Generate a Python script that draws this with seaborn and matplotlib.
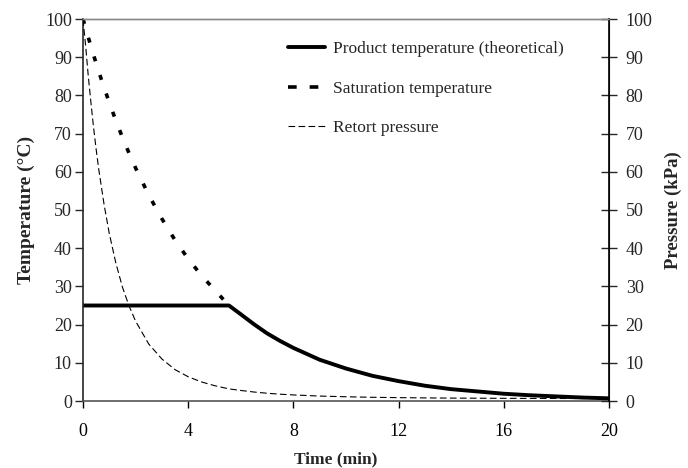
import matplotlib
matplotlib.use("Agg")
import matplotlib.pyplot as plt
from matplotlib.lines import Line2D
import seaborn as sns
import pandas as pd

# ---- data ----
sat_time = [0, 0.1, 0.2, 0.3, 0.4, 0.5, 0.6, 0.8, 1.0, 1.25, 1.5, 1.75, 2.0,
            2.5, 3.0, 3.5, 4.0, 4.5, 5.0, 5.55]
sat_temp = [100, 97.6, 95.2, 92.9, 90.6, 88.4, 86.2, 82.1, 78.1, 73.4, 69.0,
            64.9, 61.0, 53.9, 47.7, 42.1, 37.2, 32.9, 29.1, 25.0]

prod_time = [0, 5.55, 6.0, 6.5, 7.0, 7.5, 8, 9, 10, 11, 12, 13, 14, 15, 16,
             17, 18, 19, 20]
prod_temp = [25, 25, 22.7, 20.1, 17.7, 15.7, 13.9, 10.8, 8.5, 6.6, 5.2, 4.0,
             3.1, 2.5, 1.9, 1.5, 1.2, 0.9, 0.7]

pres_time = [0, 0.1, 0.2, 0.3, 0.4, 0.5, 0.6, 0.8, 1.0, 1.25, 1.5, 1.75, 2.0,
             2.5, 3.0, 3.5, 4.0, 4.5, 5.0, 5.55, 6.0, 6.5, 7.0, 7.5, 8, 9, 10,
             11, 12, 13, 14, 15, 16, 17, 18, 19, 20]
pres_kpa = [100, 93.0, 85.1, 78.2, 71.7, 65.9, 60.6, 51.5, 43.8, 36.1, 29.8,
            24.9, 20.9, 14.9, 11.0, 8.2, 6.35, 5.0, 4.02, 3.17, 2.76, 2.35,
            2.03, 1.78, 1.59, 1.29, 1.11, 0.97, 0.88, 0.81, 0.76, 0.73, 0.70,
            0.68, 0.665, 0.65, 0.64]

x_ticks = [0, 4, 8, 12, 16, 20]
y_ticks = [0, 10, 20, 30, 40, 50, 60, 70, 80, 90, 100]

labels = ["Product temperature (theoretical)", "Saturation temperature",
          "Retort pressure"]

sns.set_style("ticks")
plt.rcParams["font.family"] = ["Liberation Serif", "DejaVu Serif"]
plt.rcParams["font.size"] = 12.5

fig = plt.figure(figsize=(6.88, 4.68), dpi=100)
ax = fig.add_axes([83/688, 1 - 401/468, (609-83)/688, (401-19)/468])
ax2 = ax.twinx()

df_prod = pd.DataFrame({"t": prod_time, "v": prod_temp})
df_sat = pd.DataFrame({"t": sat_time, "v": sat_temp})
df_pres = pd.DataFrame({"t": pres_time, "v": pres_kpa})

sns.lineplot(data=df_prod, x="t", y="v", ax=ax, color="black", lw=2.8,
             legend=False, sort=False)
sns.lineplot(data=df_sat, x="t", y="v", ax=ax, color="black", lw=2.6,
             legend=False, sort=False)
ax.lines[-1].set_dashes((1.4, 4.0))
sns.lineplot(data=df_pres, x="t", y="v", ax=ax2, color="black", lw=0.8,
             legend=False, sort=False)
ax2.lines[-1].set_dashes((6, 3))

for a in (ax, ax2):
    a.set_xlim(0, 20)
    a.set_ylim(0, 100)
    a.set_yticks(y_ticks)

ax.set_xticks(x_ticks)
ax.set_xlabel("Time (min)", fontweight="bold", fontsize=12.5, labelpad=8)
ax.xaxis.label.set_x((336 - 83) / 526)
ax.set_ylabel("Temperature (°C)", fontweight="bold", fontsize=14, labelpad=7)
ax2.set_ylabel("Pressure (kPa)", fontweight="bold", fontsize=13.5, labelpad=9)

ax.tick_params(axis="x", direction="out", length=5, width=1, pad=11,
               colors="black", labelsize=13)
ax.tick_params(axis="y", direction="out", length=6, width=1, pad=2,
               labelsize=13)
ax2.tick_params(axis="y", direction="inout", length=12, width=1, pad=6,
                labelsize=13)

for a in (ax, ax2):
    a.spines["top"].set_color("#888888")
    a.spines["top"].set_linewidth(1)
ax.spines["left"].set_linewidth(1.2)
ax.spines["bottom"].set_color("#555555")
ax.spines["bottom"].set_linewidth(1.2)
ax2.spines["right"].set_linewidth(1.2)
ax2.spines["right"].set_color("black")
ax2.spines["left"].set_visible(False)
ax2.spines["bottom"].set_visible(False)

handles = [
    Line2D([], [], color="black", lw=2.8),
    Line2D([], [], color="black", lw=2.6, dashes=(2.4, 3.6)),
    Line2D([], [], color="black", lw=0.8, dashes=(6, 3)),
]
leg = ax.legend(handles, labels, loc="upper left",
                bbox_to_anchor=((288-83)/526, (401-41)/382), frameon=False,
                handlelength=2.13, handletextpad=0.46, labelspacing=1.35,
                borderpad=0, borderaxespad=0, fontsize=12.5)

fig.savefig("out.png", dpi=100)
